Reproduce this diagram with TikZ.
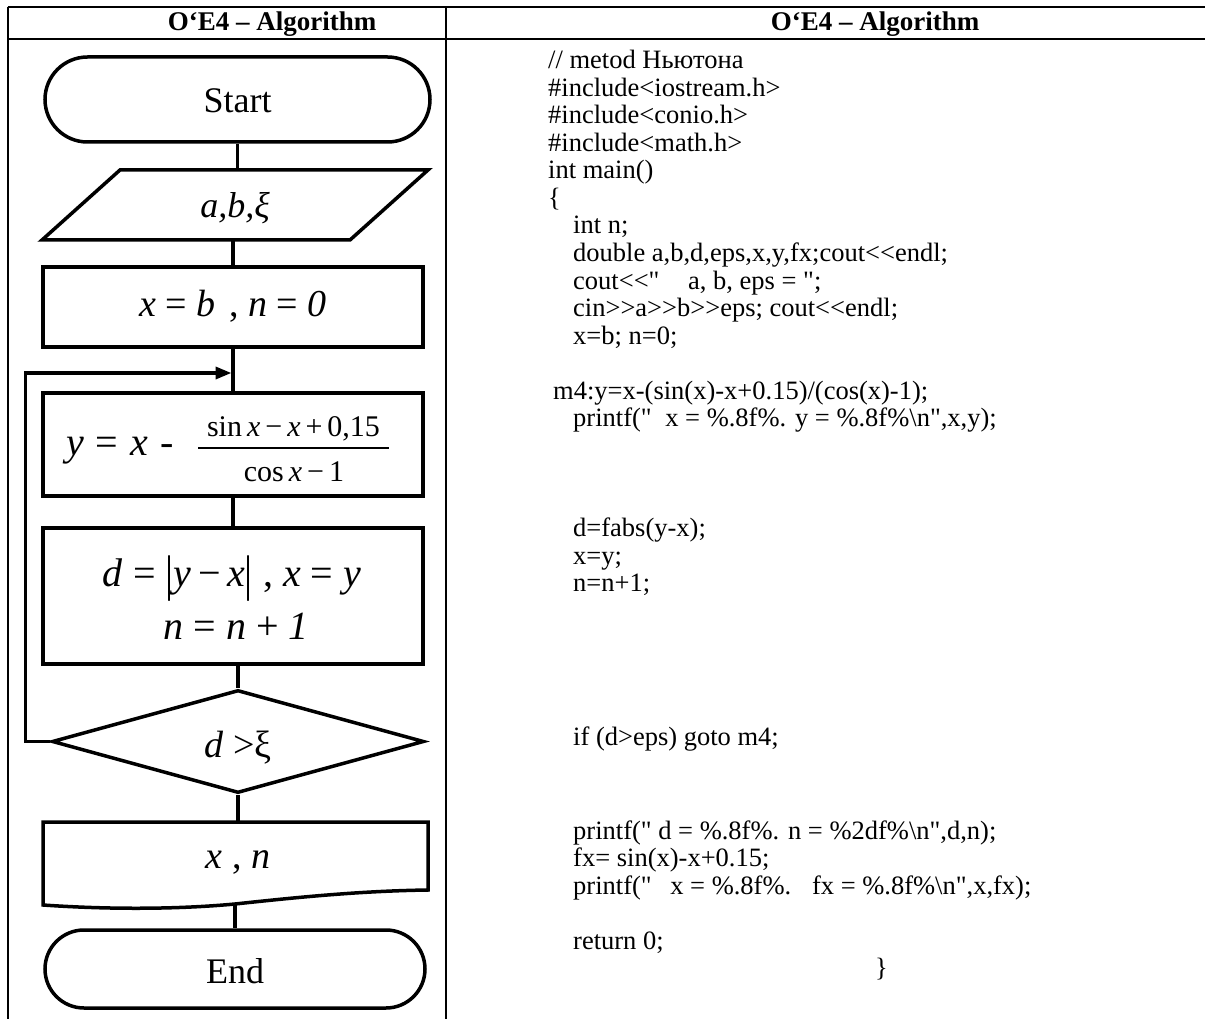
\documentclass[tikz,border=0pt]{standalone}
\usepackage{fontspec}
\usepackage{graphicx}
\setmainfont{Liberation Serif}[Ligatures=TeXOff]
\usetikzlibrary{shapes.misc,shapes.geometric,arrows.meta,calc}
\begin{document}
\begin{tikzpicture}[x=1pt,y=-1pt,
  fc/.style={draw=black, line width=3.5pt},
  lnk/.style={draw=black, line width=3.5pt},
  tbl/.style={draw=black, line width=2pt},
  code/.style={anchor=base west, inner sep=0pt, font=\fontsize{26.5}{28.5}\selectfont},
  hdr/.style={anchor=base, inner sep=0pt, font=\fontsize{27}{30}\selectfont\bfseries},
  lbl/.style={anchor=base, inner sep=0pt, font=\fontsize{38}{44}\selectfont},
  word/.style={anchor=base, inner sep=0pt, font=\fontsize{36}{40}\selectfont},
  frac/.style={anchor=base, inner sep=0pt, font=\fontsize{30}{34}\selectfont},
  term/.style={fc, rounded rectangle, inner sep=0pt},
  boxx/.style={fc, rectangle, inner sep=0pt},
]
\useasboundingbox (0,0) rectangle (1205,1019);

% ---------- table ----------
\draw[tbl] (7.5,7) -- (1205,7);
\draw[tbl] (7.5,39) -- (1205,39);
\draw[tbl] (7.5,7) -- (7.5,1019);
\draw[tbl] (446,7) -- (446,1019);
\node[hdr] (h1) at (272,31) {O‘E4 – Algorithm};
\node[hdr] (h2) at (875,31) {O‘E4 – Algorithm};

% ---------- flowchart ----------
% start
\node[term, minimum width=385, minimum height=85] (start) at (237.5,99.5) {};
\node[word] (tstart) at (237.5,113) {Start};

% input parallelogram
\coordinate (p1) at (120,170);
\coordinate (p2) at (428,170);
\coordinate (p3) at (350,240);
\coordinate (p4) at (42,240);
\draw[fc] (p1) -- (p2) -- (p3) -- (p4) -- cycle;
\node[lbl, font=\fontsize{36}{40}\selectfont\itshape] (para) at (235,218) {a,b,ξ};

% x = b, n = 0
\node[boxx, minimum width=380, minimum height=80] (r1) at (233,307) {};
\node[lbl] (t1) at (233,316) {\textit{x} = \textit{b}\hspace{14pt}, \textit{n} = \textit{0}};

% y = x - fraction
\node[boxx, minimum width=380, minimum height=103] (r2) at (233,444.5) {};
\node[lbl, anchor=base west, font=\fontsize{40}{44}\selectfont] (t2a) at (66,455) {\textit{y}\hspace{12pt}=\hspace{12pt}\textit{x}\hspace{12pt}-};
\node[frac] (num) at (293.5,436) {sin\,\textit{x}\,−\,\textit{x}\,+\,0,15};
\node[frac] (den) at (294,481) {cos\,\textit{x}\,−\,1};
\draw[line width=1.5pt] ($(num.base)+(-95.5,12)$) -- ($(num.base)+(95.5,12)$);

% d = |y-x|, x = y ; n = n + 1
\node[boxx, minimum width=380, minimum height=136] (r3) at (233,596) {};
\node[lbl, font=\fontsize{40}{44}\selectfont] (t3a) at (232,586) {\textit{d} = \raisebox{-0.12em}{\scalebox{1}[1.25]{|}}\textit{y}\,−\,\textit{x}\raisebox{-0.12em}{\scalebox{1}[1.25]{|}} , \textit{x} = \textit{y}};
\node[lbl, font=\fontsize{40}{44}\selectfont] (t3b) at (236,639) {\textit{n} = \textit{n} + \textit{1}};

% decision
\node[fc, diamond, minimum width=372, minimum height=103, inner sep=0pt] (dia) at (238,741.5) {};
\node[lbl] (tdia) at (238,757) {\textit{d} >ξ};

% output (document shape)
\coordinate (o1) at (43,822);
\coordinate (o2) at (428,822);
\coordinate (o3) at (428,890);
\coordinate (o4) at (43,905);
\draw[fc] (o4) -- (o1) -- (o2) -- (o3)
  .. controls (360,891) and (300,897) .. (235,904)
  .. controls (170,910) and (100,909) .. (o4) -- cycle;
\coordinate (obot) at (235,904);
\node[lbl] (tout) at (238,868) {\textit{x} , \textit{n}};

% end
\node[term, minimum width=380, minimum height=78] (end) at (235,969) {};
\node[word] (tend) at (235,983) {End};

% connectors
\draw[lnk] (start.south) -- (start.south |- p1);
\draw[lnk] (r1.north |- p4) -- (r1.north);
\draw[lnk] (r1.south) -- (r2.north);
\draw[lnk] (r2.south) -- (r3.north);
\draw[lnk] (dia.north |- r3.south) -- (dia.north);
\draw[lnk] (dia.south) -- (dia.south |- o1);
\draw[lnk] (obot) -- (end.north);
\coordinate (join) at (233,373);
\draw[lnk, -{Triangle[length=16pt,width=12pt]}, shorten >=1.5pt] (dia.west) -- ++(-25,0) |- (join);

% ---------- code ----------
\node[code] (c0) at (548,69) {// metod Ньютона};
\node[code] (c1) at (548,96.5) {\#include<iostream.h>};
\node[code] (c2) at (548,124) {\#include<conio.h>};
\node[code] (c3) at (548,151.5) {\#include<math.h>};
\node[code] (c4) at (548,179) {int main()};
\node[code] (c5) at (548,206.5) {\{};
\node[code] (c6) at (573,234) {int n;};
\node[code] (c7) at (573,261.5) {double a,b,d,eps,x,y,fx;cout<<endl;};
\node[code] (c8) at (573,289) {cout<<"\hspace{22pt} a, b, eps = ";};
\node[code] (c9) at (573,316.5) {cin>>a>>b>>eps; cout<<endl;};
\node[code] (c10) at (573,344) {x=b; n=0;};
\node[code] (c12) at (553,399) {m4:y=x-(sin(x)-x+0.15)/(cos(x)-1);};
\node[code] (c13) at (573,426.5) {printf("\hspace{7pt} x = \%.8f\%. y = \%.8f\%\textbackslash n",x,y);};
\node[code] (c17) at (573,536.5) {d=fabs(y-x);};
\node[code] (c18) at (573,564) {x=y;};
\node[code] (c19) at (573,591.5) {n=n+1;};
\node[code] (c24) at (573,745) {if (d>eps) goto m4;};
\node[code] (c28) at (573,839) {printf(" d = \%.8f\%. n = \%2df\%\textbackslash n",d,n);};
\node[code] (c29) at (573,866.5) {fx= sin(x)-x+0.15;};
\node[code] (c30) at (573,894) {printf("\hspace{12pt} x = \%.8f\%.\hspace{12pt} fx = \%.8f\%\textbackslash n",x,fx);};
\node[code] (c32) at (573,949) {return 0;};
\node[code] (c33) at (875,976.5) {\}};
\end{tikzpicture}
\end{document}
